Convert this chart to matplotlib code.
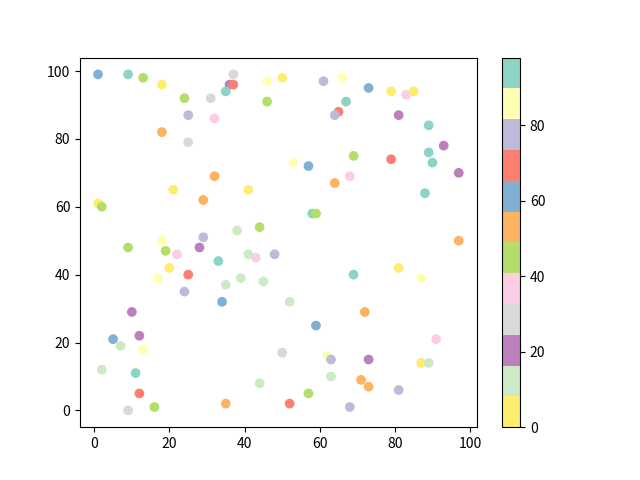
import matplotlib
matplotlib.use('Agg')
import matplotlib.pyplot as plt

plt.rcParams['font.family'] = ['Noto Sans CJK SC', 'DejaVu Sans']

# colour level for each colour seen
lvl = {'yellow': 4, 'lgreen': 12, 'purple': 20, 'gray': 29, 'pink': 37,
       'green': 45, 'orange': 53, 'blue': 61, 'salmon': 69, 'lav': 78,
       'lyellow': 86, 'teal': 94}

x = [1, 9, 13, 18, 37, 36, 37, 35, 31, 24, 46, 46, 50, 25, 32, 18, 25, 32, 21, 41,
     29, 1, 2, 38, 44, 18, 29, 9, 28,
     61, 66, 73, 79, 83, 85, 67, 65, 64, 81, 89, 93, 89, 90, 97, 69, 79, 53, 57, 68,
     64, 88, 58, 59, 97,
     19, 22, 33, 41, 43, 48, 20, 25, 17, 39, 35, 45, 24, 34, 10, 5, 12, 7, 13, 2,
     11, 44, 12, 35, 16, 9,
     81, 87, 69, 52, 72, 59, 91, 50, 62, 63, 73, 87, 89, 63, 71, 73, 81, 57, 52, 68]
y = [99, 99, 98, 96, 99, 96, 96, 94, 92, 92, 91, 97, 98, 87, 86, 82, 79, 69, 65, 65,
     62, 61, 60, 53, 54, 50, 51, 48, 48,
     97, 98, 95, 94, 93, 94, 91, 88, 87, 87, 84, 78, 76, 73, 70, 75, 74, 73, 72, 69,
     67, 64, 58, 58, 50,
     47, 46, 44, 46, 45, 46, 42, 40, 39, 39, 37, 38, 35, 32, 29, 21, 22, 19, 18, 12,
     11, 8, 5, 2, 1, 0,
     42, 39, 40, 32, 29, 25, 21, 17, 16, 15, 15, 14, 14, 10, 9, 7, 6, 5, 2, 1]
colours = ['blue', 'teal', 'green', 'yellow', 'gray', 'purple', 'salmon', 'teal', 'gray', 'green',
           'green', 'lyellow', 'yellow', 'lav', 'pink', 'orange', 'gray', 'orange', 'yellow', 'yellow',
           'orange', 'yellow', 'green', 'lgreen', 'green', 'lyellow', 'lav', 'green', 'purple',
           'lav', 'lyellow', 'blue', 'yellow', 'pink', 'yellow', 'teal', 'salmon', 'lav', 'purple',
           'teal', 'purple', 'teal', 'teal', 'purple', 'green', 'salmon', 'lyellow', 'blue', 'pink',
           'orange', 'teal', 'teal', 'green', 'orange',
           'green', 'pink', 'teal', 'lgreen', 'pink', 'lav', 'yellow', 'salmon', 'lyellow', 'lgreen',
           'lgreen', 'lgreen', 'lav', 'blue', 'purple', 'blue', 'purple', 'lgreen', 'lyellow', 'lgreen',
           'teal', 'lgreen', 'salmon', 'orange', 'green', 'gray',
           'yellow', 'lyellow', 'teal', 'lgreen', 'orange', 'blue', 'pink', 'gray', 'lyellow', 'lav',
           'purple', 'yellow', 'lgreen', 'lgreen', 'orange', 'orange', 'lav', 'green', 'salmon', 'lav']
c = [lvl[k] for k in colours]
c[1] = 98   # top of colour range (teal)
c[3] = 0    # bottom of colour range (yellow)

f = plt.figure()
f.set_figheight(4.8)
f.set_figwidth(6.4)

sc = plt.scatter(x, y, c=c, cmap='Set3_r')
plt.colorbar(sc)

plt.savefig('out.png', dpi=100)
